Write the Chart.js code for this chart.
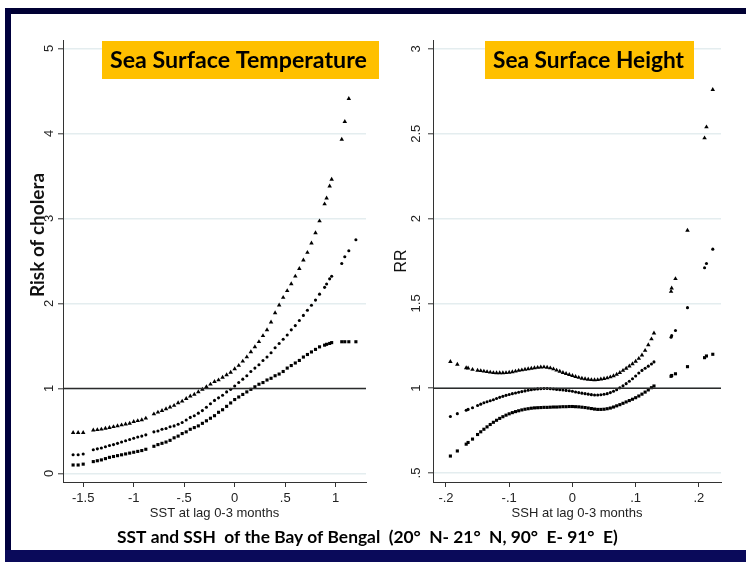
<!DOCTYPE html>
<html><head><meta charset="utf-8">
<script src="https://cdn.jsdelivr.net/npm/chart.js@4.4.0/dist/chart.umd.min.js"></script>
<style>
html,body{margin:0;padding:0;background:#fff;}
#wrap{position:relative;width:746px;height:562px;overflow:hidden;background:#fff;}
canvas{position:absolute;left:0;top:0;}
.band{position:absolute;}
</style></head><body>
<div id="wrap">
<canvas id="c1" width="746" height="562"></canvas>
<canvas id="c2" width="746" height="562"></canvas>
<div class="band" style="left:5px;top:8px;width:741px;height:6px;background:#000033"></div>
<div class="band" style="left:5px;top:8px;width:6px;height:554px;background:#00003d"></div>
<div class="band" style="left:5px;top:550px;width:741px;height:12px;background:#0a0a5a"></div>
</div>
<script>
// ---------- Left panel: Sea Surface Temperature ----------
const sstX = [-1.60,-1.55,-1.50,-1.40,-1.36,-1.32,-1.28,-1.24,-1.20,-1.16,-1.12,-1.08,-1.04,-1.00,-0.96,-0.92,-0.88,
  -0.80,-0.76,-0.72,-0.68,-0.64,-0.60,-0.56,-0.52,-0.48,-0.44,-0.40,-0.36,-0.32,-0.28,-0.24,-0.20,-0.16,-0.12,-0.08,-0.04,
  0.00,0.04,0.08,0.12,0.16,0.20,0.24,0.28,0.32,0.36,0.40,0.44,0.48,0.52,0.56,0.60,0.64,0.68,0.72,0.76,0.80,0.84,
  0.89,0.91,0.94,0.96,1.06,1.09,1.13,1.20];
const sstUpper = [0.48,0.48,0.48,0.51,0.515,0.52,0.53,0.54,0.55,0.56,0.57,0.58,0.59,0.61,0.62,0.63,0.65,
  0.70,0.72,0.74,0.76,0.78,0.80,0.83,0.85,0.88,0.91,0.93,0.96,0.99,1.02,1.05,1.08,1.10,1.13,1.16,1.19,
  1.23,1.27,1.32,1.37,1.43,1.49,1.55,1.62,1.69,1.78,1.89,1.98,2.07,2.15,2.23,2.32,2.41,2.51,2.60,2.71,2.83,2.97,
  3.17,3.24,3.38,3.46,3.93,4.14,4.41,null];
const sstRR = [0.22,0.22,0.23,0.28,0.29,0.30,0.315,0.33,0.34,0.355,0.37,0.385,0.40,0.415,0.43,0.44,0.455,
  0.49,0.50,0.52,0.53,0.55,0.56,0.58,0.60,0.63,0.66,0.68,0.71,0.74,0.78,0.82,0.86,0.89,0.92,0.96,0.99,
  1.03,1.07,1.11,1.15,1.20,1.24,1.28,1.33,1.37,1.42,1.48,1.53,1.58,1.63,1.69,1.74,1.80,1.86,1.92,1.98,2.04,2.11,
  2.19,2.23,2.29,2.32,2.47,2.55,2.62,2.75];
const sstLower = [0.10,0.10,0.11,0.14,0.15,0.16,0.175,0.19,0.20,0.21,0.22,0.23,0.24,0.25,0.26,0.27,0.285,
  0.32,0.34,0.355,0.37,0.39,0.42,0.44,0.47,0.49,0.52,0.54,0.56,0.59,0.62,0.65,0.68,0.72,0.75,0.79,0.83,
  0.87,0.90,0.93,0.96,0.99,1.02,1.05,1.07,1.10,1.12,1.15,1.17,1.20,1.24,1.27,1.30,1.33,1.37,1.40,1.43,1.46,1.49,
  1.51,1.52,1.53,1.54,1.55,1.55,1.55,1.55];
const sstXTicks = [-1.5,-1,-0.5,0,0.5,1];
const sstXTickLabels = ['-1.5','-1','-.5','0','.5','1'];
const sstYTicks = [0,1,2,3,4,5];
const sstYTickLabels = ['0','1','2','3','4','5'];
const sstXRange = [-1.7,1.3];
const sstYRange = [-0.1,5.1];

// ---------- Right panel: Sea Surface Height ----------
const sshX = [-0.193,-0.182,-0.168,-0.165,-0.158,
  -0.150,-0.145,-0.140,-0.135,-0.130,-0.125,-0.120,-0.115,-0.110,-0.105,-0.100,-0.095,-0.090,-0.085,-0.080,-0.075,
  -0.070,-0.065,-0.060,-0.055,-0.050,-0.045,-0.040,-0.035,-0.030,-0.025,-0.020,-0.015,-0.010,-0.005,
  0.000,0.005,0.010,0.015,0.020,0.025,0.030,0.035,0.040,0.045,0.050,0.055,0.060,0.065,0.070,0.075,
  0.080,0.085,0.090,0.095,0.100,0.105,0.110,0.115,0.120,0.125,
  0.129,0.156,0.157,0.163,0.182,0.209,0.212,0.222];
const sshUpper = [1.157,1.140,1.120,1.118,1.110,
  1.105,1.103,1.100,1.097,1.094,1.091,1.090,1.090,1.090,1.091,1.093,1.096,1.100,1.104,1.107,1.111,
  1.114,1.117,1.120,1.122,1.124,1.125,1.123,1.119,1.113,1.106,1.099,1.092,1.086,1.080,
  1.074,1.068,1.063,1.058,1.055,1.052,1.050,1.049,1.050,1.053,1.056,1.060,1.066,1.073,1.081,1.092,
  1.104,1.117,1.130,1.143,1.158,1.175,1.195,1.222,1.255,1.290,
  1.325,1.57,1.59,1.645,1.93,2.475,2.54,2.76];
const sshRR = [0.833,0.850,0.870,0.875,0.885,
  0.898,0.906,0.914,0.920,0.926,0.932,0.939,0.946,0.952,0.958,0.963,0.968,0.972,0.976,0.980,0.984,
  0.988,0.991,0.994,0.996,0.997,0.998,0.998,0.997,0.995,0.993,0.991,0.989,0.987,0.985,
  0.982,0.978,0.974,0.971,0.968,0.965,0.962,0.960,0.960,0.961,0.964,0.968,0.974,0.982,0.991,1.002,
  1.014,1.027,1.041,1.056,1.072,1.090,1.105,1.118,1.130,1.143,
  1.155,1.30,1.31,1.34,1.475,1.71,1.735,1.82];
const sshLower = [0.600,0.630,0.670,0.680,0.700,
  0.727,0.743,0.758,0.772,0.786,0.799,0.811,0.822,0.832,0.841,0.849,0.856,0.862,0.867,0.872,0.876,
  0.879,0.882,0.884,0.885,0.886,0.887,0.887,0.888,0.889,0.889,0.890,0.891,0.891,0.892,
  0.892,0.891,0.890,0.888,0.886,0.883,0.880,0.877,0.875,0.875,0.876,0.879,0.883,0.889,0.896,0.903,
  0.911,0.919,0.927,0.935,0.944,0.954,0.965,0.977,0.990,1.003,
  1.013,1.07,1.075,1.085,1.127,1.18,1.19,1.20];
const sshXTicks = [-0.2,-0.1,0,0.1,0.2];
const sshXTickLabels = ['-.2','-.1','0','.1','.2'];
const sshYTicks = [0.5,1,1.5,2,2.5,3];
const sshYTickLabels = ['.5','1','1.5','2','2.5','3'];
const sshXRange = [-0.2205,0.235];
const sshYRange = [0.447,3.053];

const refValue = 1;
const caption = 'SST and SSH  of the Bay of Bengal  (20°  N- 21°  N, 90°  E- 91°  E)';

const SANS = '"Liberation Sans", Arial, sans-serif';
const TITLEFONT = 'Lato, "Open Sans", sans-serif';

function pts(xs, ys){ const o=[]; xs.forEach((x,i)=>{ if(ys[i]!==null && ys[i]!==undefined) o.push({x:x,y:ys[i]}); }); return o; }

function fitText(ctx, text, x, baseline, width, family, base, align){
  ctx.font = 'bold ' + base + 'px ' + family;
  const w = ctx.measureText(text).width;
  const s = base * width / w;
  ctx.font = 'bold ' + s.toFixed(2) + 'px ' + family;
  ctx.textAlign = align || 'left'; ctx.textBaseline = 'alphabetic';
  ctx.fillText(text, x, baseline);
}

function decor(cfg){
  return {
    id:'decor',
    afterDraw(chart){
      const ctx = chart.ctx, ys = chart.scales.y;
      ctx.save();
      // rotated y tick labels
      ctx.fillStyle = '#222';
      ctx.font = '13px ' + SANS;
      ctx.textAlign = 'center'; ctx.textBaseline = 'middle';
      cfg.yTicks.forEach((v,i)=>{
        const py = ys.getPixelForValue(v);
        ctx.save(); ctx.translate(cfg.yLabelX, py); ctx.rotate(-Math.PI/2);
        ctx.fillText(cfg.yLabels[i], 0, 0); ctx.restore();
      });
      // y axis title
      ctx.save();
      ctx.fillStyle = '#111';
      ctx.translate(cfg.yTitleX, cfg.yTitleY); ctx.rotate(-Math.PI/2);
      if (cfg.yTitleFit) {
        fitText(ctx, cfg.yTitle, 0, 0, cfg.yTitleFit, TITLEFONT, 18, 'center');
      } else {
        ctx.font = cfg.yTitleFont;
        ctx.textAlign = 'center'; ctx.textBaseline = 'middle';
        ctx.fillText(cfg.yTitle, 0, 0);
      }
      ctx.restore();
      // title box
      ctx.fillStyle = '#FFC000';
      ctx.fillRect(cfg.boxX, 41, cfg.boxW, 38);
      ctx.fillStyle = '#000';
      fitText(ctx, cfg.title, cfg.textX, 68, cfg.textW, TITLEFONT, 22);
      if (cfg.caption){
        ctx.fillStyle = '#000';
        fitText(ctx, cfg.caption, 117, 543, 501, TITLEFONT, 18);
      }
      ctx.restore();
    }
  };
}

function build(id, cfg){
  const xr = cfg.xRange, yr = cfg.yRange;
  return new Chart(document.getElementById(id), {
    type:'scatter',
    data:{datasets:[
      {type:'line', data:[{x:xr[0],y:refValue},{x:xr[1],y:refValue}], borderColor:'#2b2b2b', borderWidth:1.5, pointRadius:0, fill:false},
      {data:pts(cfg.x, cfg.upper), pointStyle:'triangle', pointRadius:2.6, backgroundColor:'#000', borderColor:'#000', pointBorderWidth:0},
      {data:pts(cfg.x, cfg.rr), pointStyle:'circle', pointRadius:1.55, backgroundColor:'#000', borderColor:'#000', pointBorderWidth:0},
      {data:pts(cfg.x, cfg.lower), pointStyle:'rect', pointRadius:2.2, backgroundColor:'#000', borderColor:'#000', pointBorderWidth:0}
    ]},
    options:{
      responsive:false, animation:false, devicePixelRatio:1,
      layout:{padding:{left:cfg.padL, right:cfg.padR, top:40, bottom:41}},
      plugins:{legend:{display:false}, tooltip:{enabled:false}},
      scales:{
        x:{type:'linear', position:'bottom', min:xr[0], max:xr[1],
          afterBuildTicks:s=>{ s.ticks = cfg.xTicks.map(v=>({value:v})); },
          afterFit:s=>{ s.height = 39; },
          ticks:{autoSkip:false, maxRotation:0, minRotation:0, padding:4, color:'#222',
            font:{family:SANS, size:13}, callback:(v,i)=>cfg.xLabels[i]},
          grid:{drawOnChartArea:false, drawTicks:true, tickLength:5, tickColor:'#333', tickWidth:1},
          border:{display:true, color:'#333', width:1},
          title:{display:true, text:cfg.xTitle, color:'#222', font:{family:SANS, size:13}, padding:{top:0,bottom:0}}
        },
        y:{type:'linear', position:'left', min:yr[0], max:yr[1],
          afterBuildTicks:s=>{ s.ticks = cfg.yTicks.map(v=>({value:v})); },
          afterFit:s=>{ s.width = cfg.yW; },
          ticks:{display:false},
          grid:{color:'#e4edef', lineWidth:1.6, drawTicks:true, tickLength:5, tickColor:'#333', tickWidth:1},
          border:{display:true, color:'#333', width:1}
        }
      }
    },
    plugins:[decor(cfg)]
  });
}

function start(){
  build('c1', {x:sstX, upper:sstUpper, rr:sstRR, lower:sstLower,
    xTicks:sstXTicks, xLabels:sstXTickLabels, yTicks:sstYTicks, yLabels:sstYTickLabels,
    xRange:sstXRange, yRange:sstYRange, padL:0, padR:380, yW:63, yLabelX:49.5,
    xTitle:'SST at lag 0-3 months', yTitle:'Risk of cholera', yTitleFit:124, yTitleX:44, yTitleY:235,
    title:'Sea Surface Temperature', boxX:102, boxW:277, textX:110, textW:257, caption:caption});
  build('c2', {x:sshX, upper:sshUpper, rr:sshRR, lower:sshLower,
    xTicks:sshXTicks, xLabels:sshXTickLabels, yTicks:sshYTicks, yLabels:sshYTickLabels,
    xRange:sshXRange, yRange:sshYRange, padL:380, padR:25, yW:53, yLabelX:416,
    xTitle:'SSH at lag 0-3 months', yTitle:'RR', yTitleFont:'16px ' + SANS, yTitleX:402, yTitleY:261,
    title:'Sea Surface Height', boxX:485, boxW:209, textX:493, textW:191, caption:null});
}
if (document.fonts && document.fonts.load) {
  Promise.all([document.fonts.load('bold 22px Lato'), document.fonts.load('13px "Liberation Sans"')]).then(start, start);
} else { start(); }
</script>
</body></html>
